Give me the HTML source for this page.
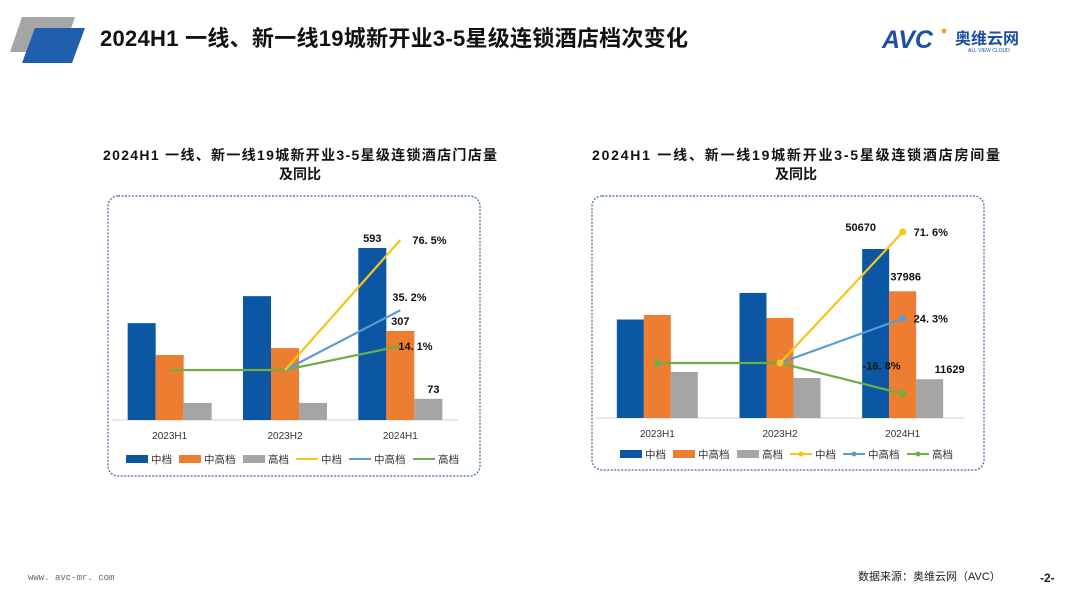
<!DOCTYPE html>
<html><head><meta charset="utf-8"><style>
body{margin:0;width:1080px;height:608px;background:#fff;overflow:hidden;font-family:"Liberation Sans","Noto Sans CJK SC",sans-serif;}
svg{position:absolute;left:0;top:0}
</style></head><body>
<svg id="s" width="1080" height="608">
<g>
<polygon points="22,17 75,17 63,52 10,52" fill="#a6a6a6"/>
<polygon points="35,28 85,28 72,63 22,63" fill="#1f5fad"/>
<text x="100" y="46" font-size="22" font-weight="bold" fill="#111" textLength="588">2024H1  一线、新一线19城新开业3-5星级连锁酒店档次变化</text>
<g>
<text x="882" y="48" font-size="25" font-weight="bold" font-style="italic" fill="#1f4fa0">AVC</text>
<circle cx="944" cy="31" r="2.5" fill="#f0a030"/>
<text x="955" y="44" font-size="16" font-weight="bold" fill="#1f4fa0">奥维云网</text>
<text x="968" y="52" font-size="5" fill="#1f4fa0">ALL VIEW CLOUD</text>
</g>
</g>
<text x="300" y="160" font-size="14" font-weight="bold" text-anchor="middle" fill="#111" textLength="394">2024H1  一线、新一线19城新开业3-5星级连锁酒店门店量</text>
<text x="300" y="179" font-size="14" font-weight="bold" text-anchor="middle" fill="#111">及同比</text>
<text x="796" y="160" font-size="14" font-weight="bold" text-anchor="middle" fill="#111" textLength="408">2024H1  一线、新一线19城新开业3-5星级连锁酒店房间量</text>
<text x="796" y="179" font-size="14" font-weight="bold" text-anchor="middle" fill="#111">及同比</text>
<rect x="108" y="196" width="372" height="280" rx="10" fill="none" stroke="#3d6b9a" stroke-width="1.2" stroke-dasharray="2,1.5"/>
<rect x="592" y="196" width="392" height="274" rx="10" fill="none" stroke="#3d6b9a" stroke-width="1.2" stroke-dasharray="2,1.5"/>
<text x="28" y="580" font-size="9" fill="#666" font-family="Liberation Mono,monospace">www. avc-mr. com</text>
<text x="858" y="580" font-size="11" fill="#222">数据来源：奥维云网（AVC）</text>
<text x="1040" y="582" font-size="12" font-weight="bold" fill="#222">-2-</text>
</svg>
<script>
const categories=["2023H1","2023H2","2024H1"];
const storeMid=[334,427,593];
const storeMidHigh=[224,248,307];
const storeHigh=[59,59,73];
const storeYoyMid=[0,0,76.5];
const storeYoyMidHigh=[0,0,35.2];
const storeYoyHigh=[0,0,14.1];
const storeBarLabels=["593","307","73"];
const storeYoyLabels=["76. 5%","35. 2%","14. 1%"];
const roomMid=[29530,37500,50670];
const roomMidHigh=[30900,30000,37986];
const roomHigh=[13800,12000,11629];
const roomYoyMid=[0,0,71.6];
const roomYoyMidHigh=[0,0,24.3];
const roomYoyHigh=[0,0,-16.8];
const roomBarLabels=["50670","37986","11629"];
const roomYoyLabels=["71. 6%","24. 3%","-16. 8%"];
const legendNames=["中档","中高档","高档","中档","中高档","高档"];
const NS="http://www.w3.org/2000/svg";
const svg=document.getElementById('s');
function mk(t,a,p){const e=document.createElementNS(NS,t);for(const k in a)e.setAttribute(k,a[k]);(p||svg).appendChild(e);return e;}
const barCols=["#0b57a4","#ed7d31","#a5a5a5"];
const lineCols=["#f5c518","#5b9bd5","#70ad47"];
function chart(o){
  const g=mk('g',{});
  
  
  const x0=o.x0,x1=o.x1,base=o.base;
  const gw=(x1-x0)/categories.length;
  const yB=v=>base-v*o.bs;
  const yL=v=>o.zero-v*o.ls;
  const ax=mk('line',{x1:x0,x2:x1,y1:base,y2:base,stroke:'#d0d0d0'},g);
  
  
  const bars=[o.b0,o.b1,o.b2];
  categories.forEach((c,i)=>{
    const cx=x0+gw*(i+0.5);
    bars.forEach((s,j)=>{
      const r=mk('rect',{x:cx-o.bw*1.5+j*o.bw,y:yB(s[i]),width:o.bw,height:base-yB(s[i]),fill:barCols[j]},g);
      
      
    });
    const t=mk('text',{x:cx,y:base+19,'font-size':10,'text-anchor':'middle',fill:'#333'},g);
    t.textContent=c;
    
    
  });
  const last=categories.length-1, lcx=x0+gw*(last+0.5);
  bars.forEach((s,j)=>{
    const t=mk('text',{x:lcx-o.bw*1.5+j*o.bw+o.bw/2+(o.blDx[j]||0),y:yB(s[last])-6+(o.blDy[j]||0),'font-size':11,'font-weight':'bold','text-anchor':'middle',fill:'#111'},g);
    t.textContent=o.bl[j];
    
    
  });
  const lines=[o.l0,o.l1,o.l2];
  [2,1,0].forEach(j=>{
    const s=lines[j];
    const start=j==2?0:1;
    let d='';
    for(let i=start;i<s.length;i++)d+=(i==start?'M':'L')+(x0+gw*(i+0.5))+','+yL(s[i]);
    const p=mk('path',{d:d,fill:'none',stroke:lineCols[j],'stroke-width':2.2},g);
    
    
    if(o.markers){for(let i=start;i<s.length;i++){const m=mk('circle',{cx:x0+gw*(i+0.5),cy:yL(s[i]),r:3.5,fill:lineCols[j]},g);}}
    const t=mk('text',{x:lcx+o.llDx[j],y:yL(s[last])+4+o.llDy[j],'font-size':11,'font-weight':'bold',fill:'#111'},g);
    t.textContent=o.ll[j];
    
    
  });
  let lx=o.legX;
  legendNames.forEach((n,k)=>{
    const it=mk('g',{},g);
    
    
    if(k<3)mk('rect',{x:lx,y:o.legY-4,width:22,height:8,fill:barCols[k]},it);
    else{mk('line',{x1:lx,x2:lx+22,y1:o.legY,y2:o.legY,stroke:lineCols[k-3],'stroke-width':2},it);if(o.markers)mk('circle',{cx:lx+11,cy:o.legY,r:2.5,fill:lineCols[k-3]},it);}
    const t=mk('text',{x:lx+25,y:o.legY+4,'font-size':10.5,fill:'#333'},it);
    t.textContent=n;
    lx+=25+n.length*11+6;
  });
}
chart({name:'store-chart',x0:112,x1:458,base:420,bs:172/593,zero:370,ls:130/76.5,bw:28,
  b0:storeMid,b1:storeMidHigh,b2:storeHigh,l0:storeYoyMid,l1:storeYoyMidHigh,l2:storeYoyHigh,
  bl:storeBarLabels,blDx:[0,0,5],blDy:[0,0,0],ll:storeYoyLabels,llDx:[12,-8,-2],llDy:[0,-13,0],
  markers:false,legX:126,legY:459});
chart({name:'room-chart',x0:596,x1:964,base:418,bs:169/50670,zero:363,ls:131/71.6,bw:27,
  b0:roomMid,b1:roomMidHigh,b2:roomHigh,l0:roomYoyMid,l1:roomYoyMidHigh,l2:roomYoyHigh,
  bl:roomBarLabels,blDx:[-15,3,20],blDy:[-12,-5,0],ll:roomYoyLabels,llDx:[11,11,-40],llDy:[0,0,-28],
  markers:true,legX:620,legY:454});
</script>
</body></html>
